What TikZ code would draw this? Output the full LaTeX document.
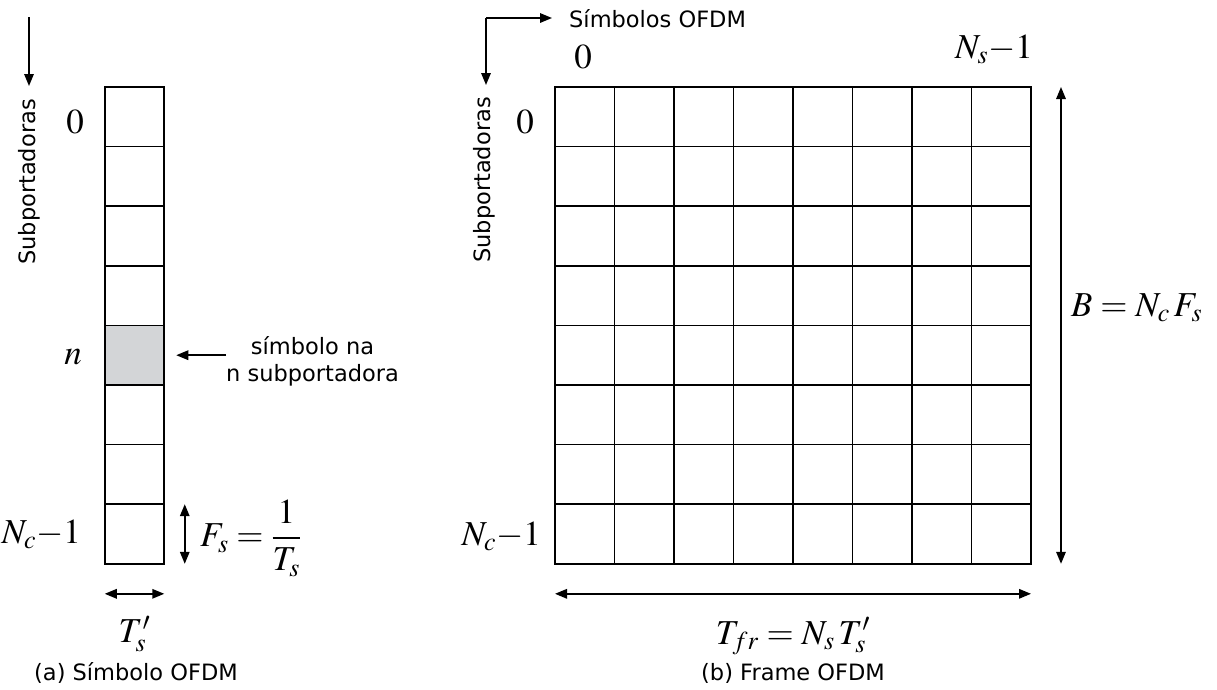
\documentclass[tikz,border=0pt]{standalone}
\usepackage{mathptmx}
\usepackage[no-math]{fontspec}
\setsansfont{DejaVu Sans}
\usepackage{xcolor}
\usetikzlibrary{arrows.meta,positioning}

\definecolor{cellgray}{RGB}{211,213,215}

\tikzset{
  cell/.style={draw, line width=1.6pt, minimum width=59.5pt, minimum height=59.6pt, inner sep=0pt, outer sep=0pt},
  lbl/.style={font=\sffamily\fontsize{22.5}{27}\selectfont, inner sep=0pt},
  mlbl/.style={font=\fontsize{35}{40}\selectfont, inner sep=0pt},
  arr/.style={-{Triangle[length=12pt,width=9.5pt]}, line width=1.6pt},
  darr/.style={{Triangle[length=12pt,width=9.5pt]}-{Triangle[length=12pt,width=9.5pt]}, line width=1.6pt},
}

\begin{document}
\begin{tikzpicture}[x=1pt,y=-1pt]
    \useasboundingbox (0,0) rectangle (1217,689);

    % (a) one OFDM symbol
    \foreach \r in {0,...,7}
        \node[cell] (a-\r) at (134.5, 116.8+59.6*\r) {};
    \node[cell, fill=cellgray] at (a-4) {};

    \coordinate (atop) at (29,17);
    \coordinate (abot) at (29,86);
    \draw[arr] (atop) -- (abot);
    \node[lbl, rotate=90] (asub) at (29,182) {Subportadoras};

    \node[mlbl] (azero) at (75,122) {$0$};
    \node[mlbl] (an) at (73,357) {$n$};
    \node[mlbl, anchor=base east] (anc) at (81,543) {$N_c{-}1$};

    % arrow to the grey cell
    \node[lbl, align=center, anchor=west] (asym) at (226,361) {símbolo na\\n subportadora};
    \draw[arr] (asym.west |- a-4.east) -- ([xshift=12pt]a-4.east);

    % cell size
    \draw[darr] ([xshift=20.5pt]a-7.north east) -- ([xshift=20.5pt]a-7.south east);
    \node[mlbl, anchor=west] (afs) at (200,538) {$\displaystyle F_s = \frac{1}{T_s}$};
    \draw[darr] ([yshift=-30pt]a-7.south west) -- ([yshift=-30pt]a-7.south east);
    \node[mlbl] (ats) at (134.5,634) {$T_s'$};
    \node[lbl] (acap) at (136,673) {(a) Símbolo OFDM};

    % (b) OFDM frame
    \foreach \r in {0,...,7}
        \foreach \c in {0,...,7}
            \node[cell] (b-\r-\c) at (584.75+59.5*\c, 116.8+59.6*\r) {};

    \coordinate (bup) at (486,18);
    \coordinate (bdown) at (486,85);
    \coordinate (bright) at (552,18);
    \draw[arr] (bup) -- (bdown);
    \draw[arr] (bup) -- (bright);
    \node[lbl, anchor=west] (bsym) at (569,19) {Símbolos OFDM};
    \node[lbl, rotate=90] (bsub) at (484,180) {Subportadoras};

    \node[mlbl] (bzerotop) at (583,57) {$0$};
    \node[mlbl, anchor=base east] (bns) at (1033,58) {$N_s{-}1$};
    \node[mlbl] (bzero) at (525,122) {$0$};
    \node[mlbl, anchor=base east] (bnc) at (541,545) {$N_c{-}1$};

    % frame size
    \draw[darr] ([xshift=30pt]b-0-7.north east) -- ([xshift=30pt]b-7-7.south east);
    \node[mlbl, anchor=base west] (bb) at (1071,316) {$B = N_c\,F_s$};
    \draw[darr] ([yshift=-30pt]b-7-0.south west) -- ([yshift=-30pt]b-7-7.south east);
    \node[mlbl] (btfr) at (793,636) {$T_{fr} = N_s\,T_s'$};
    \node[lbl] (bcap) at (793,673) {(b) Frame OFDM};
\end{tikzpicture}
\end{document}
